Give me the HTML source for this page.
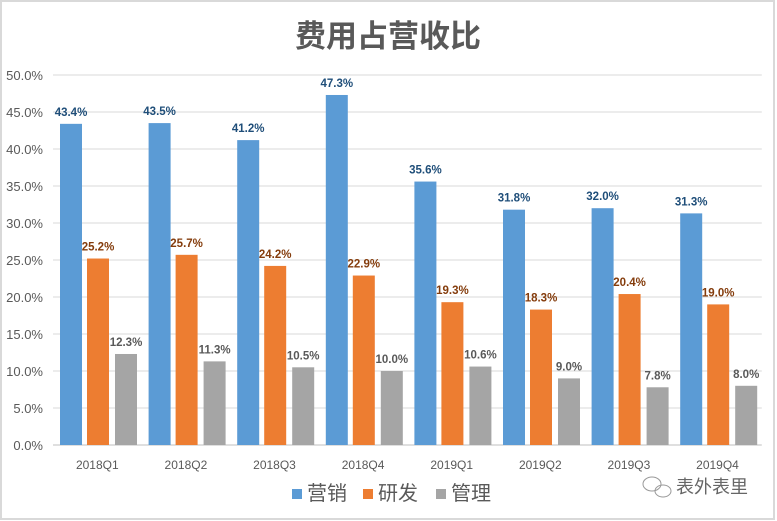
<!DOCTYPE html>
<html><head><meta charset="utf-8"><style>
body{margin:0;background:#fff;}
svg{display:block;font-family:"Liberation Sans","Noto Sans CJK SC",sans-serif;}
</style></head><body>
<svg id="chart" width="777" height="521">
<rect x="1" y="1" width="773" height="518" fill="#fff" stroke="#d9d9d9" stroke-width="2"/>
<text x="388" y="47" text-anchor="middle" font-size="31" font-weight="bold" fill="#595959" font-family="'Liberation Sans','Noto Sans CJK SC',sans-serif">费用占营收比</text>
<g id="grid"></g><g id="bars"></g><g id="labels"></g>
<g>
<rect x="292" y="489" width="10" height="10" fill="#5b9bd5"/>
<text x="307" y="500" font-size="20" fill="#595959">营销</text>
<rect x="363" y="489" width="10" height="10" fill="#ed7d31"/>
<text x="378" y="500" font-size="20" fill="#595959">研发</text>
<rect x="436" y="489" width="10" height="10" fill="#a5a5a5"/>
<text x="451" y="500" font-size="20" fill="#595959">管理</text>
</g>
<g>
<ellipse cx="652" cy="484" rx="9" ry="7" fill="none" stroke="#999" stroke-width="1"/>
<ellipse cx="663" cy="491" rx="8" ry="6" fill="none" stroke="#999" stroke-width="1"/>
<text x="676" y="493" font-size="18" fill="#666">表外表里</text>
</g>
</svg>
<script>
const categories=["2018Q1","2018Q2","2018Q3","2018Q4","2019Q1","2019Q2","2019Q3","2019Q4"];
const marketing=[43.4,43.5,41.2,47.3,35.6,31.8,32.0,31.3];
const rd=[25.2,25.7,24.2,22.9,19.3,18.3,20.4,19.0];
const admin=[12.3,11.3,10.5,10.0,10.6,9.0,7.8,8.0];
const ticks=[0,5,10,15,20,25,30,35,40,45,50];
const NS="http://www.w3.org/2000/svg";
const x0=53,gw=88.6,y0=445,yTop=75,ymax=50;
const y=v=>y0-(v/ymax)*(y0-yTop);
const gx=i=>x0+i*gw;
function mk(tag,attrs,parent){const e=document.createElementNS(NS,tag);for(const k in attrs)e.setAttribute(k,attrs[k]);parent.appendChild(e);return e;}
const grid=document.getElementById('grid'),bars=document.getElementById('bars'),labels=document.getElementById('labels');
ticks.forEach(t=>{
 const l=mk('line',{x1:x0,x2:x0+8*gw,y1:y(t),y2:y(t),stroke:t===0?'#bfbfbf':'#d9d9d9','stroke-width':1},grid);
 
 
 const tx=mk('text',{x:43,y:y(t)+5,'text-anchor':'end','font-size':13,fill:'#595959'},grid);
 tx.textContent=t.toFixed(1)+'%';
 
 
});
categories.forEach((c,i)=>{
 const tx=mk('text',{x:gx(i)+gw/2,y:469,'text-anchor':'middle','font-size':12,fill:'#595959'},grid);
 tx.textContent=c;
 
 
});
const series=[{d:marketing,c:'#5b9bd5',lc:'#1f4e79',off:7,n:'marketing'},{d:rd,c:'#ed7d31',lc:'#843c0c',off:34,n:'rd'},{d:admin,c:'#a5a5a5',lc:'#595959',off:62,n:'admin'}];
series.forEach(s=>{
 s.d.forEach((v,i)=>{
  const bx=gx(i)+s.off;
  const r=mk('rect',{x:bx,y:y(v),width:22,height:y0-y(v),fill:s.c},bars);
  
  
  const t=mk('text',{x:bx+11,y:y(v)-8,'text-anchor':'middle','font-size':11.5,'font-weight':'bold',fill:s.lc},labels);
  t.textContent=v.toFixed(1)+'%';
  
  
 });
});
</script>
</body></html>
